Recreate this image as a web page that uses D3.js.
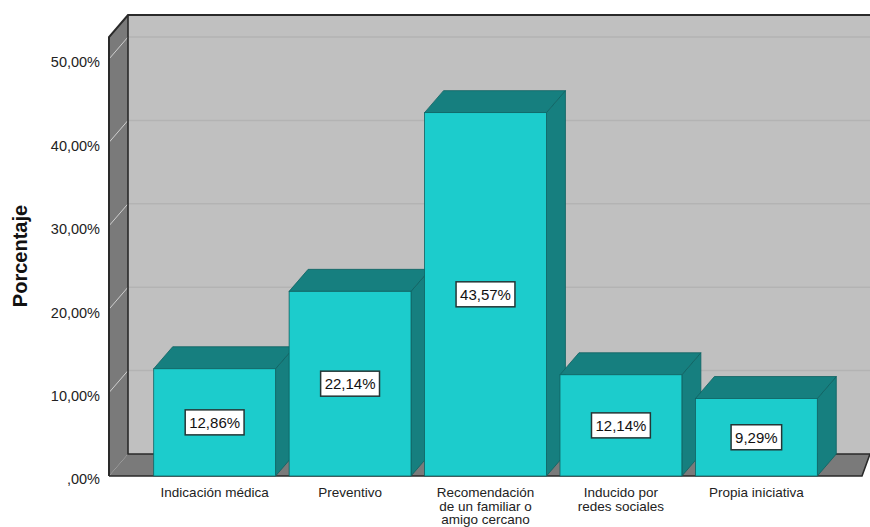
<!DOCTYPE html>
<html>
<head>
<meta charset="utf-8">
<script src="https://cdn.jsdelivr.net/npm/d3@7"></script>
<style>
  html, body { margin: 0; padding: 0; background: #ffffff; }
  svg { display: block; font-family: "Liberation Sans", Arial, sans-serif; }
</style>
</head>
<body>
<svg id="chart" width="870" height="527"></svg>
<script>
// ---- data ----
const categories = [
  "Indicación médica",
  "Preventivo",
  "Recomendación de un familiar o amigo cercano",
  "Inducido por redes sociales",
  "Propia iniciativa"
];
const categoryLabelLines = [
  ["Indicación médica"],
  ["Preventivo"],
  ["Recomendación", "de un familiar o", "amigo cercano"],
  ["Inducido por", "redes sociales"],
  ["Propia iniciativa"]
];
const percentages = [12.86, 22.14, 43.57, 12.14, 9.29];
const yTickValues = [0, 10, 20, 30, 40, 50];
const yAxisTitle = "Porcentaje";

// ---- layout ----
const W = 870, H = 527;
const frontLeft = 109, frontRight = 862;
const frontBottom = 476, frontTop = 37;
const DX = 19, DY = -22;         // depth offset of the box
const BDX = 19, BDY = -22;       // depth offset of bars

const svg = d3.select("#chart");

const x = d3.scaleBand()
  .domain(categories)
  .range([frontLeft, frontRight])
  .paddingInner(0.1)
  .paddingOuter(0.33);

const y = d3.scaleLinear()
  .domain([0, 50])
  .range([frontBottom, 59]);

const fmt = v => {
  let s = v.toFixed(2).replace(".", ",");
  if (s.startsWith("0")) s = s.slice(1);
  return s + "%";
};

// ---- box: back wall ----
const backLeft = frontLeft + DX, backTop = frontTop + DY, backBottom = frontBottom + DY;
svg.append("rect")
  .attr("x", backLeft).attr("y", backTop)
  .attr("width", W - backLeft + 20).attr("height", backBottom - backTop)
  .attr("fill", "#c0c0c0");

// gridlines on back wall
svg.append("g").selectAll("line")
  .data(yTickValues.filter(d => d > 0))
  .join("line")
  .attr("x1", backLeft).attr("x2", W + 20)
  .attr("y1", d => y(d) + DY).attr("y2", d => y(d) + DY)
  .attr("stroke", "#b3b3b3").attr("stroke-width", 1.5);

// left wall
svg.append("polygon")
  .attr("points", [[frontLeft, frontTop], [backLeft, backTop], [backLeft, backBottom], [frontLeft, frontBottom]].join(" "))
  .attr("fill", "#7a7a7a");

// gridlines on left wall
svg.append("g").selectAll("line")
  .data(yTickValues.filter(d => d > 0))
  .join("line")
  .attr("x1", frontLeft).attr("x2", backLeft)
  .attr("y1", d => y(d)).attr("y2", d => y(d) + DY)
  .attr("stroke", "#cfcfcf").attr("stroke-width", 1);

// floor
svg.append("polygon")
  .attr("points", [[frontLeft, frontBottom], [frontRight, frontBottom], [W, backBottom], [backLeft, backBottom]].join(" "))
  .attr("fill", "#7a7a7a");

// outlines
const outline = svg.append("g").attr("fill", "none").attr("stroke", "#2a2a2a").attr("stroke-width", 2);
outline.append("polyline")
  .attr("points", [[frontLeft, frontBottom], [frontLeft, frontTop], [backLeft, backTop], [W + 5, backTop]].join(" "));
outline.append("polyline")
  .attr("points", [[backLeft, backTop], [backLeft, backBottom], [W, backBottom]].join(" "))
  .attr("stroke-width", 1.6);
outline.append("polyline")
  .attr("points", [[frontLeft, frontBottom], [frontRight, frontBottom], [W, backBottom]].join(" "))
  .attr("stroke-width", 1.6);

// ---- bars ----
const barFront = "#1ccccc", barDark = "#167f7f", barEdge = "#0f6262";
const bars = svg.append("g");
categories.forEach((c, i) => {
  const v = percentages[i];
  const x0 = x(c), x1 = x(c) + x.bandwidth();
  const yt = y(v), yb = y(0);
  const g = bars.append("g");
  g.append("polygon")
    .attr("points", [[x1, yt], [x1 + BDX, yt + BDY], [x1 + BDX, yb + BDY], [x1, yb]].join(" "))
    .attr("fill", barDark).attr("stroke", barEdge).attr("stroke-width", 0.8);
  g.append("polygon")
    .attr("points", [[x0, yt], [x0 + BDX, yt + BDY], [x1 + BDX, yt + BDY], [x1, yt]].join(" "))
    .attr("fill", barDark).attr("stroke", barEdge).attr("stroke-width", 0.8);
  g.append("rect")
    .attr("x", x0).attr("y", yt)
    .attr("width", x.bandwidth()).attr("height", yb - yt)
    .attr("fill", barFront).attr("stroke", barEdge).attr("stroke-width", 0.8);
});

// ---- value labels ----
const labels = svg.append("g");
categories.forEach((c, i) => {
  const v = percentages[i];
  const cx = x(c) + x.bandwidth() / 2;
  const cy = (y(v) + y(0)) / 2;
  const lg = labels.append("g");
  const t = lg.append("text")
    .attr("x", cx).attr("y", cy)
    .attr("text-anchor", "middle").attr("dy", "0.36em")
    .attr("font-size", 15).attr("fill", "#111")
    .text(fmt(v));
  const w = t.node().getComputedTextLength();
  lg.insert("rect", "text")
    .attr("x", cx - w / 2 - 4).attr("y", cy - 12.5)
    .attr("width", w + 8).attr("height", 25)
    .attr("fill", "#ffffff").attr("stroke", "#243636").attr("stroke-width", 1.5);
});

// ---- y axis ----
const yAxis = svg.append("g")
  .attr("transform", `translate(${frontLeft},0)`)
  .call(d3.axisLeft(y).tickValues(yTickValues).tickFormat(fmt).tickSize(0).tickPadding(9));
yAxis.select(".domain").remove();
yAxis.selectAll("text")
  .attr("font-size", 14.5).attr("fill", "#222")
  .attr("font-family", "Liberation Sans, Arial, sans-serif")
  .attr("dy", "0.55em");

// ---- x axis ----
const xAxis = svg.append("g")
  .attr("transform", `translate(0,${frontBottom})`)
  .call(d3.axisBottom(x).tickSize(0));
xAxis.select(".domain").remove();
xAxis.selectAll(".tick text").each(function(d) {
  const i = categories.indexOf(d);
  const t = d3.select(this);
  t.text(null).attr("y", null).attr("dy", null)
    .attr("font-size", 13.5).attr("fill", "#222")
    .attr("font-family", "Liberation Sans, Arial, sans-serif");
  categoryLabelLines[i].forEach((line, k) => {
    t.append("tspan").attr("x", 0).attr("y", 21 + k * 13.5).text(line);
  });
});

// ---- y axis title ----
svg.append("text")
  .attr("transform", `translate(27,256) rotate(-90)`)
  .attr("text-anchor", "middle")
  .attr("font-size", 20).attr("font-weight", "bold").attr("fill", "#111")
  .text(yAxisTitle);
</script>
</body>
</html>
